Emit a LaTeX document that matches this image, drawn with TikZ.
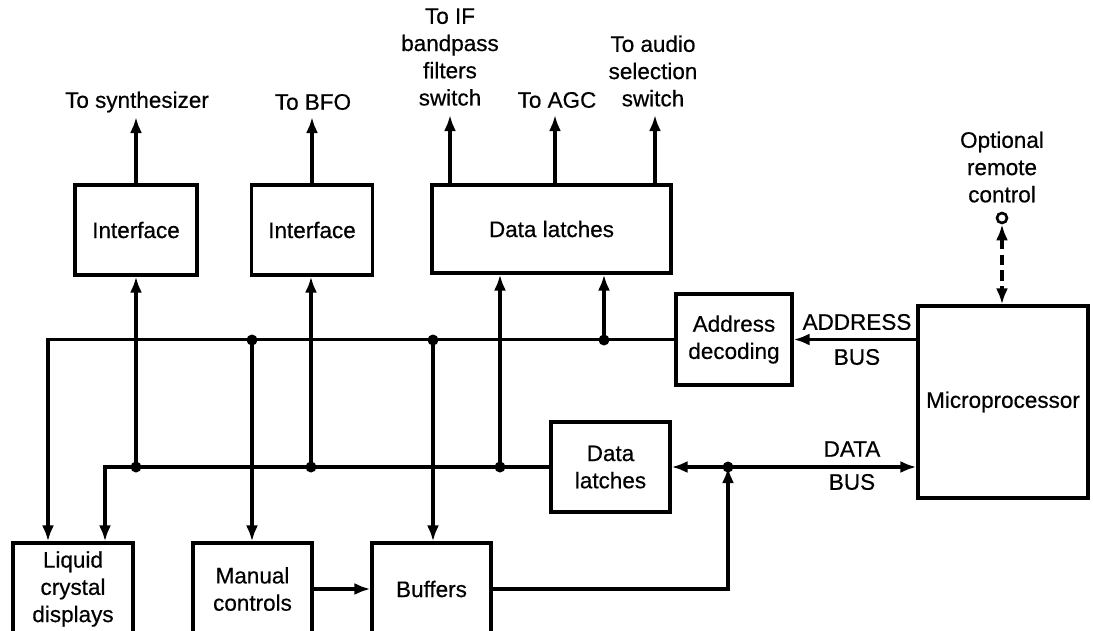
\documentclass[tikz,border=0pt]{standalone}
\usepackage{fontspec}
\setmainfont{Liberation Sans}[FakeBold=0.5]
\usetikzlibrary{arrows.meta}
\begin{document}
\begin{tikzpicture}[x=0.02cm,y=-0.02cm,
  font=\fontsize{12.8}{15.5}\selectfont,
  blk/.style={draw,line width=1.8pt,rectangle,inner sep=0pt,align=center},
  txt/.style={inner sep=0pt,align=center},
  arr/.style={line width=1.8pt,-{Latex[length=3.2mm,width=2.4mm]}},
  dot/.style={circle,fill,inner sep=0pt,minimum size=0.22cm}]
\useasboundingbox (0,0) rectangle (1093,630);
\clip (0,0) rectangle (1093,630);
\fill[white] (0,0) rectangle (1093,630);
% blocks
\node[blk,minimum width=2.44cm,minimum height=1.8cm] (if1) at (136,230) {Interface};
\node[blk,minimum width=2.42cm,minimum height=1.8cm] (if2) at (312,230) {Interface};
\node[blk,minimum width=4.78cm,minimum height=1.76cm] (dl1) at (551.5,229) {Data latches};
\node[blk,minimum width=2.32cm,minimum height=1.82cm] (ad) at (734,339.5) {Address\\decoding};
\node[blk,minimum width=2.38cm,minimum height=1.8cm] (dl2) at (610.5,467) {Data\\latches};
\node[blk,minimum width=3.4cm,minimum height=3.84cm] (mp) at (1003,402) {Microprocessor};
\node[blk,minimum width=2.4cm,minimum height=1.84cm] (lcd) at (73,589) {Liquid\\crystal\\displays};
\node[blk,minimum width=2.38cm,minimum height=1.84cm] (mc) at (252.5,589) {Manual\\controls};
\node[blk,minimum width=2.38cm,minimum height=1.84cm] (buf) at (431.5,589) {Buffers};
% remote control terminal
\node[circle,draw,line width=1.5pt,inner sep=0pt,minimum size=0.2cm] (rc) at (1002,218) {};
% labels
\node[txt] (t1) at (137,102) {To synthesizer};
\node[txt] (t2) at (313,102) {To BFO};
\node[txt] (t3) at (450,57) {To IF\\bandpass\\filters\\switch};
\node[txt] (t4) at (557,100) {To AGC};
\node[txt] (t5) at (653,71) {To audio\\selection\\switch};
\node[txt] (t6) at (1002,167) {Optional\\remote\\control};
\node[txt] (la1) at (857,322) {ADDRESS};
\node[txt] (la2) at (857,357) {BUS};
\node[txt] (ld1) at (852,449) {DATA};
\node[txt] (ld2) at (852,482) {BUS};
% bus coordinates
\coordinate (abL) at (48,340);
\coordinate (ab1) at (252,340);
\coordinate (ab2) at (433,340);
\coordinate (ab3) at (604,340);
\coordinate (dbL) at (105,467);
\coordinate (db1) at (136,467);
\coordinate (db2) at (311,467);
\coordinate (db3) at (500,467);
\coordinate (dbR) at (728,467);
% output ends
\coordinate (o1) at (136,117);
\coordinate (o2) at (312,117);
\coordinate (o3) at (450,115);
\coordinate (o4) at (555,115);
\coordinate (o5) at (655,115);
% outputs
\draw[arr] (if1.north) -- (o1);
\draw[arr] (if2.north) -- (o2);
\draw[arr] (o3 |- dl1.north) -- (o3);
\draw[arr] (o4 |- dl1.north) -- (o4);
\draw[arr] (o5 |- dl1.north) -- (o5);
% address bus
\draw[arr] (mp.west |- ad.east) -- (ad.east);
\draw[arr] (ad.west) -- (ad.west -| abL) -- (abL |- lcd.north);
\draw[arr] (ab1) -- (ab1 |- mc.north);
\draw[arr] (ab2) -- (ab2 |- buf.north);
\draw[arr] (ab3) -- (ab3 |- dl1.south);
% data bus
\draw[arr] (dl2.west) -- (dl2.west -| dbL) -- (dbL |- lcd.north);
\draw[arr] (db1) -- (db1 |- if1.south);
\draw[arr] (db2) -- (db2 |- if2.south);
\draw[arr] (db3) -- (db3 |- dl1.south);
\draw[arr] (dbR) -- (dl2.east);
\draw[arr] (dbR) -- (dbR -| mp.west);
\draw[arr] (buf.east) -| (dbR);
\draw[arr] (mc.east) -- (buf.west);
% remote control link
\draw[line width=1.8pt,dash pattern=on 6pt off 3pt,{Latex[length=3.2mm,width=2.4mm]}-{Latex[length=3.2mm,width=2.4mm]}] (rc.south) -- (rc.south |- mp.north);
% junction dots
\foreach \p in {ab1,ab2,ab3,db1,db2,db3,dbR} \node[dot] at (\p) {};
\end{tikzpicture}
\end{document}
